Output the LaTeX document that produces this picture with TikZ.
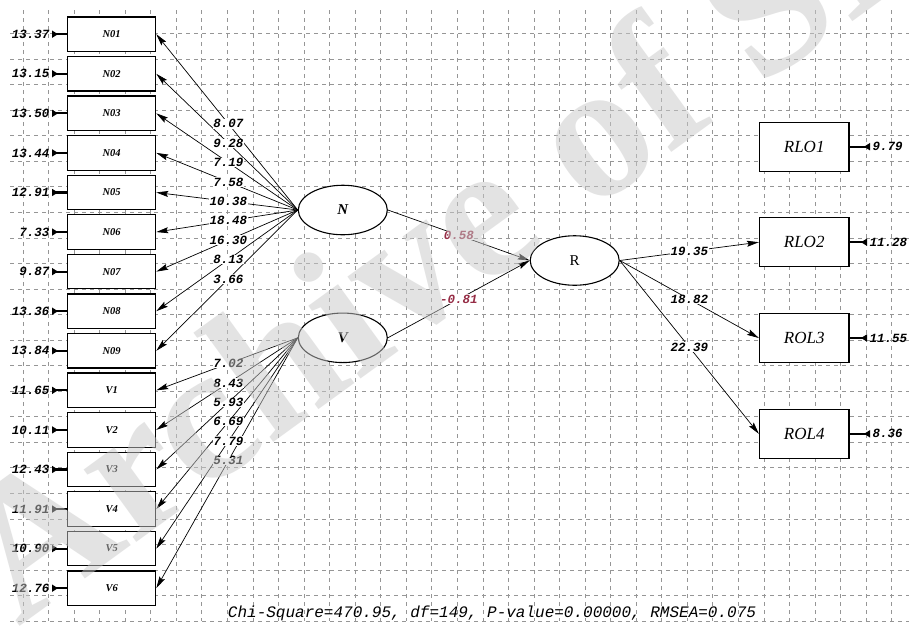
\documentclass[tikz,border=0pt]{standalone}
\usepackage{fontspec}
\setmainfont{Liberation Serif}
\setmonofont{Liberation Mono}
\usetikzlibrary{arrows.meta,shapes.geometric}
\definecolor{gridgray}{RGB}{150,150,150}
\definecolor{wmgray}{RGB}{200,200,200}
\definecolor{maroon}{RGB}{150,45,70}
\begin{document}
\begin{tikzpicture}[x=1pt,y=-1pt,
  gridline/.style={gridgray, line width=0.8pt, dash pattern=on 4pt off 4pt},
  obs/.style={draw, line width=1.2pt, fill=white, minimum width=88pt, minimum height=34.5pt, inner sep=0pt, font=\bfseries\itshape\fontsize{10.5}{10.5}\selectfont},
  robs/.style={draw, line width=1.2pt, fill=white, minimum width=89.5pt, minimum height=49pt, inner sep=0pt, font=\itshape\fontsize{17}{17}\selectfont},
  lat/.style={draw, ellipse, line width=1.1pt, fill=white, minimum width=89pt, minimum height=49.5pt, inner sep=0pt},
  num/.style={font=\ttfamily\bfseries\itshape\fontsize{12.5}{12.5}\selectfont, inner sep=0.5pt},
  load/.style={num, fill=white},
  arr/.style={-{Stealth[length=12pt,width=6pt,inset=2pt]}, line width=0.7pt},
  errarr/.style={{Triangle[reversed,length=6pt,width=7pt]}-, line width=2.2pt, shorten <=2pt},
]
\useasboundingbox (0,0) rectangle (909,625);
\fill[white] (0,0) rectangle (909,625);
% grid
\foreach \i in {0,...,34} \draw[gridline] ({23+25.55*\i},10) -- ({23+25.55*\i},621.2);
\foreach \j in {0,...,23} \draw[gridline] (10,{33.5+25.55*\j}) -- (909,{33.5+25.55*\j});

% latent variables
\node[lat, font=\bfseries\itshape\fontsize{15}{15}\selectfont] (N) at (342.8,210) {N};
\node[lat, font=\bfseries\itshape\fontsize{15}{15}\selectfont] (V) at (342.8,337.8) {V};
\node[lat, font=\fontsize{15}{15}\selectfont] (R) at (574.7,260.5) {R};

% left indicators of N
\foreach \lab/\ev [count=\k from 0] in {N01/13.37, N02/13.15, N03/13.50, N04/13.44, N05/12.91, N06/7.33, N07/9.87, N08/13.36, N09/13.84} {
  \node[obs] (o\k) at (111.7,{34.2+39.57*\k}) {\lab};
  \node[num, anchor=east] (e\k) at (50,{34.2+39.57*\k}) {\ev};
  \draw[errarr] (e\k.east) -- (o\k.west);
  \draw[arr] (N.west) -- (o\k.east);
}
% left indicators of V
\foreach \lab/\ev [count=\k from 9] in {V1/11.65, V2/10.11, V3/12.43, V4/11.91, V5/10.90, V6/12.76} {
  \node[obs] (o\k) at (111.7,{34.2+39.57*\k}) {\lab};
  \node[num, anchor=east] (e\k) at (50,{34.2+39.57*\k}) {\ev};
  \draw[errarr] (e\k.east) -- (o\k.west);
  \draw[arr] (V.west) -- (o\k.east);
}
% loading labels on top
\foreach \ld [count=\k from 0] in {8.07,9.28,7.19,7.58,10.38,18.48,16.30,8.13,3.66}
  \path (N.west) -- node[load, pos=0.49] {\ld} (o\k.east);
\foreach \ld [count=\k from 9] in {7.02,8.43,5.93,6.69,7.79,5.31}
  \path (V.west) -- node[load, pos=0.49] {\ld} (o\k.east);

% structural paths
\draw[arr] (N.east) -- node[load, text=maroon, pos=0.5] {0.58} (R.west);
\draw[arr] (V.east) -- node[load, text=maroon, pos=0.5] {-0.81} (R.west);

% right indicators
\node[robs] (r1) at (804.2,146.7) {RLO1};
\node[robs] (r2) at (804.2,242.2) {RLO2};
\node[robs] (r3) at (804.2,338) {ROL3};
\node[robs] (r4) at (804.2,433.8) {ROL4};
\node[num, anchor=west] (re1) at (872,146.7) {9.79};
\node[num, anchor=west] (re2) at (869,242.2) {11.28};
\node[num, anchor=west] (re3) at (869,338) {11.55};
\node[num, anchor=west] (re4) at (872,433.8) {8.36};
\foreach \k in {1,...,4} \draw[errarr] (re\k.west) -- (r\k.east);
\draw[arr] (R.east) -- (r2.west);
\draw[arr] (R.east) -- (r3.west);
\draw[arr] (R.east) -- (r4.west);
\path (R.east) -- node[load, pos=0.5] {19.35} (r2.west);
\path (R.east) -- node[load, pos=0.5] {18.82} (r3.west);
\path (R.east) -- node[load, pos=0.5] {22.39} (r4.west);

% fit statistics
\node[font=\ttfamily\itshape\fontsize{16}{16}\selectfont, inner sep=0pt] (fit) at (492,613) {Chi-Square=470.95, df=149, P-value=0.00000, RMSEA=0.075};

% watermark
\node[rotate=36, anchor=base west, inner sep=0pt, text=wmgray, opacity=0.5, font=\bfseries\fontsize{195}{195}\selectfont] (wm) at (18,628) {Archive of SID};
\end{tikzpicture}
\end{document}
